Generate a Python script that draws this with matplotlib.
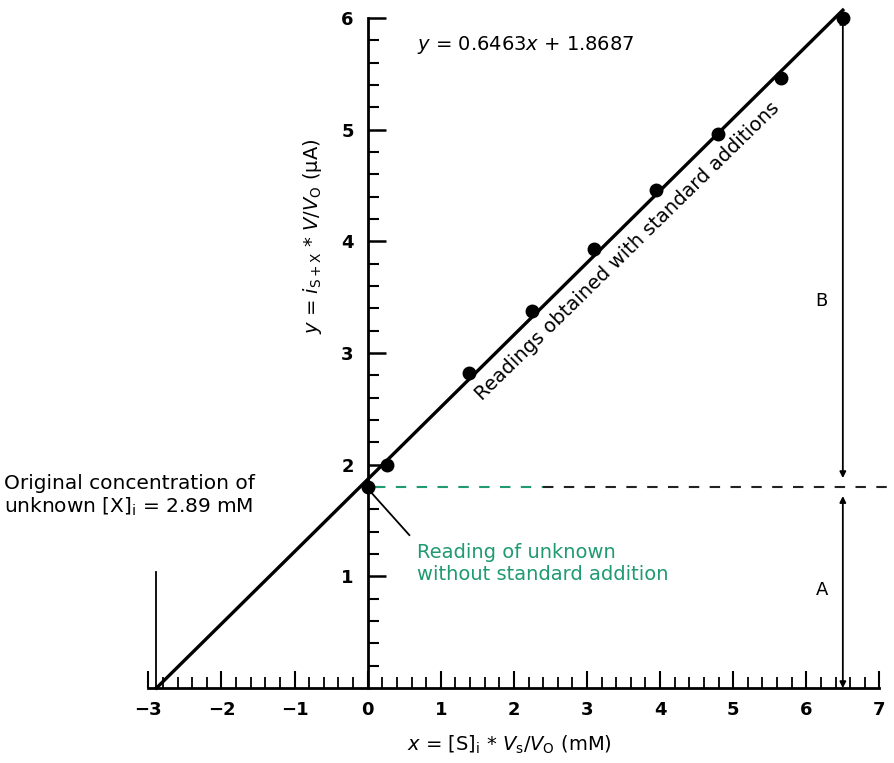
import numpy as np
import matplotlib.pyplot as plt
from matplotlib.ticker import FixedLocator

# standard-addition readings (x in mM, y in uA)
std_x = [0.26, 1.38, 2.25, 3.10, 3.95, 4.79, 5.66, 6.50]
std_y = [2.00, 2.82, 3.38, 3.93, 4.46, 4.96, 5.46, 6.00]
unknown_x = 0.0
unknown_y = 1.80
slope = 0.6463
intercept = 1.8687
x_intercept = -2.89

x_ticks = list(range(-3, 8))
y_ticks = list(range(1, 7))

GREEN = "#1f9a72"

plt.rcParams["font.family"] = ["DejaVu Sans"]
plt.rcParams["mathtext.fontset"] = "dejavusans"

fig = plt.figure(figsize=(8.94, 7.63), dpi=100)
ax = fig.add_axes([0, 0, 1, 1])
ax.set_xlim(-5.03, 7.20)
ax.set_ylim(-0.67, 6.16)

# axes through origin
for s in ["top", "right"]:
    ax.spines[s].set_visible(False)
ax.spines["left"].set_position(("data", 0))
ax.spines["bottom"].set_position(("data", 0))
ax.spines["left"].set_bounds(0, 6)
ax.spines["bottom"].set_bounds(-3, 7)
ax.spines["left"].set_linewidth(2)
ax.spines["bottom"].set_linewidth(2)

x_minor = [v for v in np.round(np.arange(-3, 7.01, 0.2), 2) if abs(v - round(v)) > 1e-6]
y_minor = [v for v in np.round(np.arange(0, 6.01, 0.2), 2) if abs(v - round(v)) > 1e-6]
ax.xaxis.set_major_locator(FixedLocator(x_ticks))
ax.xaxis.set_minor_locator(FixedLocator(x_minor))
ax.yaxis.set_major_locator(FixedLocator(y_ticks))
ax.yaxis.set_minor_locator(FixedLocator(y_minor))
ax.tick_params(axis="x", which="major", direction="in", length=12, width=1.5,
               labelsize=13, pad=9)
ax.tick_params(axis="x", which="minor", direction="in", length=8, width=1.3)
ax.tick_params(axis="y", which="major", direction="in", length=13, width=1.8,
               labelsize=13, pad=10)
ax.tick_params(axis="y", which="minor", direction="in", length=8, width=1.5)
ax.set_xticklabels([str(v).replace("-", "\u2212") for v in x_ticks])
for lab in ax.get_xticklabels() + ax.get_yticklabels():
    lab.set_fontweight("bold")

# fitted line
xl = np.array([x_intercept, std_x[-1]])
ax.plot(xl, slope * xl + intercept, color="black", lw=2.4, zorder=3)
ax.plot(std_x, std_y, "o", color="black", ms=9, zorder=4)
ax.plot([unknown_x], [unknown_y], "o", color="black", ms=9, zorder=4)

# dashed reading of unknown
ax.plot([0.1, 2.4], [unknown_y, unknown_y], ls=(0, (5, 5)), color=GREEN, lw=1.5)
ax.plot([2.4, 7.2], [unknown_y, unknown_y], ls=(0, (5, 5)), color="#222222", lw=1.5)

# vertical A / B arrows
xv = std_x[-1]
arr = dict(arrowstyle="<|-|>", color="black", lw=1.3, mutation_scale=9,
           shrinkA=0, shrinkB=0)
ax.annotate("", xy=(xv, 6.0), xytext=(xv, unknown_y + 0.08), arrowprops=arr)
ax.annotate("", xy=(xv, 0.0), xytext=(xv, unknown_y - 0.08), arrowprops=arr)
ax.text(6.21, 3.47, "B", fontsize=13, ha="center", va="center")
ax.text(6.21, 0.88, "A", fontsize=13, ha="center", va="center")

# x-intercept marker
ax.plot([x_intercept, x_intercept], [0, 1.04], color="black", lw=1.3)
ax.text(-4.97, 1.72, "Original concentration of\nunknown [X]$_{\\mathrm{i}}$ = 2.89 mM",
        fontsize=14.5, ha="left", va="center", linespacing=1.15)

# unknown reading annotation
ax.plot([0.05, 0.57], [1.75, 1.37], color="black", lw=1.3)
ax.text(0.68, 1.12, "Reading of unknown\nwithout standard addition", color=GREEN,
        fontsize=14, ha="left", va="center", linespacing=1.2)

ax.text(3.55, 3.91, "Readings obtained with standard additions", fontsize=14,
        rotation=44.4, ha="center", va="center", rotation_mode="anchor")
ax.text(0.68, 5.76, "$y$ = 0.6463$x$ + 1.8687", fontsize=14, ha="left", va="center")

ax.text(-0.75, 4.05, "$y$ = $i_{\\mathrm{S+X}}$ * $V$/$V_{\\mathrm{O}}$ (\u03bcA)",
        fontsize=14, rotation=90, ha="center", va="center")
ax.text(1.94, -0.51, "$x$ = [S]$_{\\mathrm{i}}$ * $V_{\\mathrm{s}}$/$V_{\\mathrm{O}}$ (mM)",
        fontsize=14, ha="center", va="center")

fig.savefig("out.png", dpi=100)
